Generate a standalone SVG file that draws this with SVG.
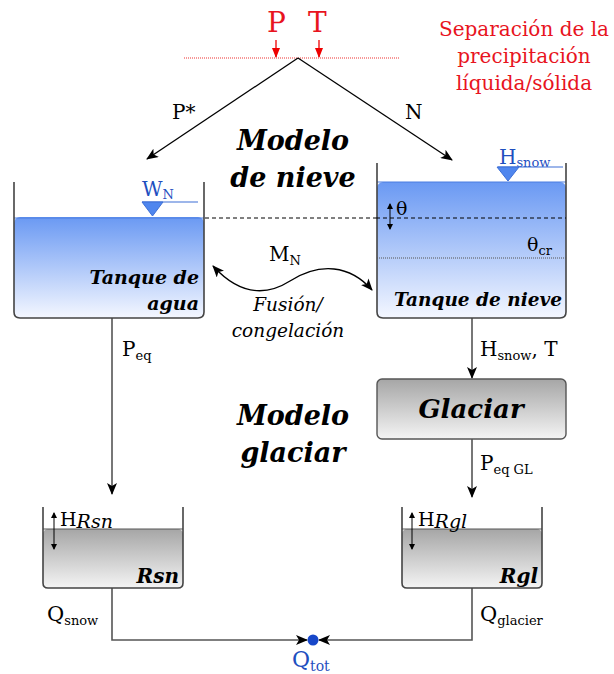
<svg xmlns="http://www.w3.org/2000/svg" width="614" height="674" viewBox="0 0 614 674">
<defs>
<linearGradient id="blue" x1="0" y1="0" x2="0" y2="1">
<stop offset="0" stop-color="#6a99f3"/>
<stop offset="1" stop-color="#f4f7ff"/>
</linearGradient>
<linearGradient id="gray" x1="0" y1="0" x2="0" y2="1">
<stop offset="0" stop-color="#a6a6a6"/>
<stop offset="1" stop-color="#f4f4f4"/>
</linearGradient>
<marker id="ah" viewBox="0 0 12 10" refX="11" refY="5" markerWidth="12" markerHeight="10" markerUnits="userSpaceOnUse" orient="auto-start-reverse">
<path d="M0,0 L12,5 L0,10 L3,5 Z" fill="#000"/>
</marker>
<marker id="ahr" viewBox="0 0 10 8" refX="9" refY="4" markerWidth="10" markerHeight="8" markerUnits="userSpaceOnUse" orient="auto">
<path d="M0,0 L10,4 L0,8 Z" fill="#e00"/>
</marker>
<marker id="sm" viewBox="0 0 6 6" refX="5" refY="3" markerWidth="6" markerHeight="6" markerUnits="userSpaceOnUse" orient="auto-start-reverse">
<path d="M0,0 L6,3 L0,6 Z" fill="#000"/>
</marker>
</defs>
<style>
.t{font-family:"DejaVu Serif","Liberation Serif",serif;fill:#000}
.red{fill:#e8141e}
.blue{fill:#1f4fbf}
.bi{font-family:"DejaVu Serif","Liberation Serif",serif;font-weight:bold;font-style:italic;fill:#000}
.wall{fill:none;stroke:#444;stroke-width:1.6}
.ln{fill:none;stroke:#000;stroke-width:1.3}
.gl{fill:none;stroke:#555;stroke-width:1.6}
</style>

<g id="separacion">
<text class="t red" x="267" y="32" font-size="28">P</text>
<text class="t red" x="308" y="32" font-size="28">T</text>
<line x1="276" y1="40" x2="276" y2="57" stroke="#e00" stroke-width="1.3" marker-end="url(#ahr)"/>
<line x1="319" y1="40" x2="319" y2="57" stroke="#e00" stroke-width="1.3" marker-end="url(#ahr)"/>
<line x1="184" y1="58" x2="400" y2="58" stroke="#e33" stroke-width="1" stroke-dasharray="1,1"/>
<text class="t red" font-size="20" text-anchor="middle"><tspan x="524" y="36">Separación de la</tspan><tspan x="524" y="63">precipitación</tspan><tspan x="524" y="90">líquida/sólida</tspan></text>
</g>

<g id="connectors">
<line x1="298" y1="58" x2="147" y2="159" class="ln" marker-end="url(#ah)"/>
<line x1="298" y1="58" x2="452" y2="160" class="ln" marker-end="url(#ah)"/>
<path d="M213,266 C235,290 260,300 290,281 C320,262 350,265 372,290" class="ln" marker-start="url(#ah)" marker-end="url(#ah)"/>
<line x1="112" y1="318" x2="112" y2="494" class="gl" marker-end="url(#ah)"/>
<line x1="472" y1="318" x2="472" y2="378" class="gl" marker-end="url(#ah)"/>
<line x1="472" y1="439" x2="472" y2="497" class="gl" marker-end="url(#ah)"/>
<polyline points="112,588 112,640 307,640" class="gl" marker-end="url(#ah)"/>
<polyline points="472,588 472,640 319,640" class="gl" marker-end="url(#ah)"/>
<line x1="205" y1="218" x2="376" y2="218" stroke="#000" stroke-width="1" stroke-dasharray="4,3"/>
</g>

<g id="labels">
<text class="t" x="172" y="119" font-size="20">P*</text>
<text class="t" x="405" y="119" font-size="20">N</text>
<text class="bi" x="293" y="150" font-size="27" text-anchor="middle">Modelo</text>
<text class="bi" x="293" y="187" font-size="27" text-anchor="middle">de nieve</text>
<text class="t" x="269" y="261" font-size="20">M<tspan font-size="13" dy="4">N</tspan></text>
<text class="t" x="288" y="311" font-size="18.5" font-style="italic" text-anchor="middle">Fusión/</text>
<text class="t" x="288" y="337" font-size="18.5" font-style="italic" text-anchor="middle">congelación</text>
<text class="t" x="122" y="356" font-size="20">P<tspan font-size="13" dy="4">eq</tspan></text>
<text class="t" x="480" y="356" font-size="20">H<tspan font-size="13" dy="4">snow</tspan><tspan dy="-4">, T</tspan></text>
<text class="bi" x="293" y="425" font-size="27" text-anchor="middle">Modelo</text>
<text class="bi" x="293" y="462" font-size="27" text-anchor="middle">glaciar</text>
<text class="t" x="480" y="470" font-size="20">P<tspan font-size="13" dy="4">eq GL</tspan></text>
<text class="t" x="47" y="621" font-size="21">Q<tspan font-size="13" dy="4">snow</tspan></text>
<text class="t" x="480" y="621" font-size="21">Q<tspan font-size="13" dy="4">glacier</tspan></text>
</g>

<g id="tanque-agua">
<rect x="14" y="217" width="190" height="101" rx="6" fill="url(#blue)"/>
<path d="M14,218 L204,218" stroke="#4a7de0" stroke-width="1"/>
<path d="M14,182 L14,312 Q14,318 20,318 L198,318 Q204,318 204,312 L204,182" class="wall"/>
<text class="t blue" x="142" y="196" font-size="20">W<tspan font-size="13" dy="3">N</tspan></text>
<line x1="142" y1="202" x2="198" y2="202" stroke="#3d6fd6" stroke-width="1.2"/>
<path d="M142,202 L163,202 L152.5,216 Z" fill="#4f86ee" stroke="#3d6fd6" stroke-width="1"/>
<text class="bi" x="199" y="284" font-size="19" text-anchor="end">Tanque de</text>
<text class="bi" x="199" y="310" font-size="19" text-anchor="end">agua</text>
</g>

<g id="tanque-nieve">
<rect x="377" y="182" width="189" height="136" rx="6" fill="url(#blue)"/>
<path d="M377,182 L566,182" stroke="#4a7de0" stroke-width="1"/>
<path d="M377,163 L377,312 Q377,318 383,318 L560,318 Q566,318 566,312 L566,163" class="wall"/>
<line x1="376" y1="218" x2="566" y2="218" stroke="#000" stroke-width="1" stroke-dasharray="4,3"/>
<line x1="377" y1="258" x2="566" y2="258" stroke="#555" stroke-width="1" stroke-dasharray="1,1"/>
<text class="t blue" x="499" y="164" font-size="20">H<tspan font-size="13" dy="3">snow</tspan></text>
<line x1="498" y1="167" x2="563" y2="167" stroke="#3d6fd6" stroke-width="1.2"/>
<path d="M497,167 L519,167 L508,181 Z" fill="#4f86ee" stroke="#3d6fd6" stroke-width="1"/>
<line x1="390" y1="204" x2="390" y2="229" stroke="#000" stroke-width="1" marker-start="url(#sm)" marker-end="url(#sm)"/>
<text class="t" x="396" y="215" font-size="19">θ</text>
<text class="t" x="527" y="251" font-size="19">θ<tspan font-size="13" dy="4">cr</tspan></text>
<text class="bi" x="562" y="306" font-size="18.5" text-anchor="end">Tanque de nieve</text>
</g>

<g id="glaciar">
<rect x="377" y="379" width="189" height="60" rx="5" fill="url(#gray)" stroke="#555" stroke-width="1.4"/>
<text class="bi" x="471" y="418" font-size="26" text-anchor="middle">Glaciar</text>
</g>

<g id="rsn">
<rect x="43" y="529" width="140" height="59" rx="5" fill="url(#gray)"/>
<line x1="43" y1="529" x2="183" y2="529" stroke="#555" stroke-width="1"/>
<path d="M43,507 L43,583 Q43,588 48,588 L178,588 Q183,588 183,583 L183,507" class="wall"/>
<line x1="54" y1="513" x2="54" y2="549" stroke="#000" stroke-width="1" marker-start="url(#sm)" marker-end="url(#sm)"/>
<text class="t" x="60" y="526" font-size="19">H<tspan font-style="italic" dy="2">Rsn</tspan></text>
<text class="bi" x="179" y="583" font-size="20" text-anchor="end">Rsn</text>
</g>

<g id="rgl">
<rect x="402" y="529" width="140" height="59" rx="5" fill="url(#gray)"/>
<line x1="402" y1="529" x2="542" y2="529" stroke="#555" stroke-width="1"/>
<path d="M402,507 L402,583 Q402,588 407,588 L537,588 Q542,588 542,583 L542,507" class="wall"/>
<line x1="412" y1="513" x2="412" y2="549" stroke="#000" stroke-width="1" marker-start="url(#sm)" marker-end="url(#sm)"/>
<text class="t" x="418" y="526" font-size="19">H<tspan font-style="italic" dy="2">Rgl</tspan></text>
<text class="bi" x="538" y="583" font-size="20" text-anchor="end">Rgl</text>
</g>

<g id="qtot">
<circle cx="313" cy="640" r="5.5" fill="#1747c9"/>
<text class="t blue" x="292" y="667" font-size="22">Q<tspan font-size="14" dy="4">tot</tspan></text>
</g>
</svg>
